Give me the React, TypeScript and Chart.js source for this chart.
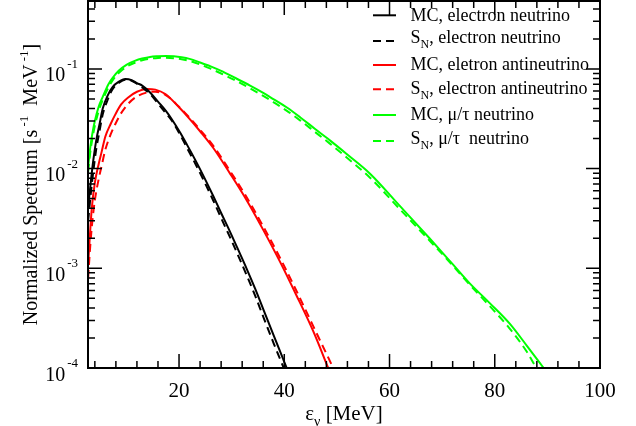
import React, { useEffect, useRef } from 'react';
import { Chart, registerables } from 'chart.js';
Chart.register(...registerables);

// ---------- axis ranges & ticks ----------
const X_MIN = 2.7;
const X_MAX = 100;
const Y_MIN = 1e-4;
const Y_MAX = 0.48;
const xMajorTicks = [20, 40, 60, 80, 100];
const xTickLabels = ['20', '40', '60', '80', '100'];
const xMinorStep = 4;
const yMajorTicks = [1e-4, 1e-3, 1e-2, 1e-1];
const yTickExponents = ['-4', '-3', '-2', '-1'];

// ---------- data ----------
// MC, electron neutrino
const mcNueE = [2.73, 3.2, 3.7, 4.25, 4.9, 5.5, 6.5, 7.4, 8.5, 9.8, 11, 12, 13, 14.5, 16, 17.5, 18.5, 20.2, 21.5, 23.1, 24.8, 26.5, 28, 29.7, 31.3, 32.9, 34.5, 36, 38, 40.46];
const mcNueV = [4.1e-3, 7.1e-3, 0.012, 0.019, 0.028, 0.040, 0.055, 0.066, 0.074, 0.079, 0.077, 0.072, 0.068, 0.058, 0.047, 0.038, 0.032, 0.023, 0.0174, 0.01216, 8.13e-3, 5.31e-3, 3.59e-3, 2.32e-3, 1.51e-3, 9.77e-4, 6.17e-4, 3.89e-4, 2.11e-4, 1.0e-4];
// S_N, electron neutrino
const snNueE = [2.73, 3.2, 3.7, 4.25, 4.9, 5.5, 6.5, 7.4, 8.5, 9.8, 11, 12, 13, 14.5, 16, 17.5, 18.5, 20.2, 21.5, 23.1, 24.8, 26.5, 28, 29.7, 31.3, 32.9, 34.5, 36, 38, 39.9];
const snNueV = [3.0e-3, 5.4e-3, 9.3e-3, 0.0155, 0.024, 0.035, 0.050, 0.063, 0.072, 0.078, 0.076, 0.071, 0.065, 0.056, 0.045, 0.036, 0.031, 0.0219, 0.0162, 0.0112, 7.41e-3, 4.79e-3, 3.2e-3, 2.04e-3, 1.32e-3, 8.41e-4, 5.25e-4, 3.27e-4, 1.76e-4, 1.0e-4];
// MC, electron antineutrino
const mcNuebE = [2.73, 3.0, 3.42, 4.0, 4.74, 5.3, 6.0, 7.0, 7.9, 9.0, 10.4, 12, 13.9, 15.5, 17.4, 20, 22, 24, 26.55, 29.7, 32.88, 36, 39.2, 42.3, 45.5, 48.35];
const mcNuebV = [1.1e-3, 1.9e-3, 4.0e-3, 7.2e-3, 0.0112, 0.0148, 0.021, 0.028, 0.035, 0.044, 0.052, 0.059, 0.063, 0.062, 0.056, 0.0412, 0.0316, 0.0237, 0.016, 8.91e-3, 4.79e-3, 2.43e-3, 1.16e-3, 5.37e-4, 2.34e-4, 1.0e-4];
// S_N, electron antineutrino
const snNuebE = [2.73, 3.0, 3.42, 4.0, 4.74, 5.3, 6.0, 7.0, 7.9, 9.0, 10.4, 12, 13.9, 15.5, 17.4, 20, 22, 24, 26.55, 29.7, 32.88, 36, 39.2, 42.3, 45.5, 49.3];
const snNuebV = [8.0e-4, 1.35e-3, 2.6e-3, 4.8e-3, 7.9e-3, 0.0107, 0.0155, 0.022, 0.028, 0.036, 0.045, 0.053, 0.058, 0.059, 0.055, 0.0417, 0.0324, 0.0245, 0.0168, 9.44e-3, 5.13e-3, 2.63e-3, 1.27e-3, 5.96e-4, 2.63e-4, 1.0e-4];
// MC, mu/tau neutrino
const mcNuxE = [2.73, 3.1, 3.5, 4.0, 4.74, 5.5, 6.64, 7.5, 8.53, 10, 11.7, 13, 14.5, 16, 17.5, 19, 20.5, 22, 24, 26, 28, 30.5, 33.5, 36, 38, 40.5, 43, 45.8, 48.67, 51.8, 56.3, 62, 67.6, 72, 75.2, 79, 82.8, 86, 89.3];
const mcNuxV = [0.0105, 0.0158, 0.022, 0.030, 0.042, 0.0525, 0.071, 0.083, 0.096, 0.110, 0.121, 0.127, 0.132, 0.134, 0.135, 0.134, 0.131, 0.126, 0.116, 0.106, 0.0955, 0.082, 0.068, 0.0575, 0.0495, 0.041, 0.0328, 0.0251, 0.0192, 0.0141, 8.9e-3, 4.2e-3, 2.0e-3, 1.1e-3, 7.1e-4, 4.5e-4, 2.8e-4, 1.7e-4, 1.0e-4];
// S_N, mu/tau neutrino
const snNuxE = [2.73, 3.1, 3.5, 4.0, 4.74, 5.5, 6.64, 7.5, 8.53, 10, 11.7, 13, 14.5, 16, 17.5, 19, 20.5, 22, 24, 26, 28, 30.5, 33.5, 36, 38, 40.5, 43, 45.8, 48.67, 51.8, 56.3, 62, 67.6, 72, 75.2, 79, 82.8, 86, 87.9];
const snNuxV = [9.3e-3, 0.0141, 0.0195, 0.0269, 0.038, 0.049, 0.066, 0.0785, 0.091, 0.105, 0.116, 0.122, 0.1265, 0.129, 0.1294, 0.128, 0.125, 0.120, 0.111, 0.1005, 0.090, 0.0776, 0.0638, 0.0537, 0.0462, 0.038, 0.0305, 0.0234, 0.0178, 0.0130, 8.1e-3, 3.9e-3, 1.9e-3, 1.07e-3, 6.9e-4, 4.2e-4, 2.5e-4, 1.48e-4, 1.0e-4];

// ---------- legend ----------
const legendPrefix = ['MC', 'S', 'MC', 'S', 'MC', 'S'];
const legendSub = ['', 'N', '', 'N', '', 'N'];
const legendRest = [', electron neutrino', ', electron neutrino', ', eletron antineutrino', ', electron antineutrino', ', \u03bc/\u03c4 neutrino', ', \u03bc/\u03c4  neutrino'];
const seriesColors = ['#000000', '#000000', '#ff0000', '#ff0000', '#00ff00', '#00ff00'];
const seriesDashed = [false, true, false, true, false, true];

const SERIF = '"Liberation Serif", "Times New Roman", serif';
const DASH = [8, 5];

const toXY = (xs: number[], ys: number[]) => xs.map((x, i) => ({ x, y: ys[i] }));

const decorPlugin = {
  id: 'decor',
  afterDraw(chart: any) {
    const { ctx, chartArea, scales } = chart;
    const { left, right, top, bottom } = chartArea;
    const xs = scales.x;
    const ys = scales.y;
    ctx.save();
    ctx.setLineDash([]);
    ctx.strokeStyle = '#000';
    ctx.fillStyle = '#000';

    // ticks (inward, on all four sides)
    const MAJ = 14;
    const MIN = 7;
    ctx.lineWidth = 1.5;
    ctx.beginPath();
    for (let v = xMinorStep; v < X_MAX; v += xMinorStep) {
      if (v < X_MIN) continue;
      const px = xs.getPixelForValue(v);
      const len = xMajorTicks.includes(v) ? MAJ : MIN;
      ctx.moveTo(px, bottom);
      ctx.lineTo(px, bottom - len);
      ctx.moveTo(px, top);
      ctx.lineTo(px, top + len);
    }
    for (let e = -4; e <= 0; e++) {
      for (let k = 1; k <= 9; k++) {
        const v = k * Math.pow(10, e);
        if (v < Y_MIN * 0.999 || v > Y_MAX) continue;
        const py = ys.getPixelForValue(v);
        const len = k === 1 ? MAJ : MIN;
        ctx.moveTo(left, py);
        ctx.lineTo(left + len, py);
        ctx.moveTo(right, py);
        ctx.lineTo(right - len, py);
      }
    }
    ctx.stroke();

    // frame
    ctx.lineWidth = 2;
    ctx.strokeRect(left, top, right - left, bottom - top);

    // x tick labels
    ctx.font = `21px ${SERIF}`;
    ctx.textAlign = 'center';
    ctx.textBaseline = 'alphabetic';
    xMajorTicks.forEach((v, i) => {
      ctx.fillText(xTickLabels[i], xs.getPixelForValue(v), 397);
    });

    // y tick labels 10^n
    ctx.textAlign = 'left';
    yMajorTicks.forEach((v, i) => {
      const py = ys.getPixelForValue(v);
      ctx.font = `13px ${SERIF}`;
      const wExp = ctx.measureText(yTickExponents[i]).width;
      ctx.font = `20px ${SERIF}`;
      const wTen = ctx.measureText('10').width;
      const endX = 78;
      ctx.fillText('10', endX - wExp - 2 - wTen, py + 12.5);
      ctx.font = `13px ${SERIF}`;
      ctx.fillText(yTickExponents[i], endX - wExp, py - 1);
    });

    // x axis title: epsilon_nu [MeV]
    {
      ctx.font = `21px ${SERIF}`;
      const w1 = ctx.measureText('\u03b5').width;
      const w3 = ctx.measureText(' [MeV]').width;
      ctx.font = `14px ${SERIF}`;
      const w2 = ctx.measureText('\u03bd').width;
      const cx = (left + right) / 2;
      const x0 = cx - (w1 + w2 + w3) / 2;
      ctx.font = `21px ${SERIF}`;
      ctx.fillText('\u03b5', x0, 420);
      ctx.font = `14px ${SERIF}`;
      ctx.fillText('\u03bd', x0 + w1, 426);
      ctx.font = `21px ${SERIF}`;
      ctx.fillText(' [MeV]', x0 + w1 + w2, 420);
    }

    // y axis title
    {
      const parts: [string, boolean][] = [
        ['Normalized Spectrum [s', false],
        [' -1', true],
        ['  MeV', false],
        [' -1', true],
        [']', false],
      ];
      const fontFor = (sup: boolean) => (sup ? `13px ${SERIF}` : `20px ${SERIF}`);
      let total = 0;
      const widths = parts.map(([t, s]) => {
        ctx.font = fontFor(s);
        const w = ctx.measureText(t).width;
        total += w;
        return w;
      });
      ctx.save();
      ctx.translate(37, (top + bottom) / 2);
      ctx.rotate(-Math.PI / 2);
      let x = -total / 2;
      parts.forEach(([t, s], i) => {
        ctx.font = fontFor(s);
        ctx.fillText(t, x, s ? -9 : 0);
        x += widths[i];
      });
      ctx.restore();
    }

    // legend
    const lineY = [15.3, 41, 65, 89.3, 115, 141];
    const capY = [15.3, 37.2, 63.7, 87.5, 114, 138];
    legendPrefix.forEach((pre, i) => {
      ctx.save();
      ctx.strokeStyle = seriesColors[i];
      ctx.lineWidth = 2;
      ctx.setLineDash(seriesDashed[i] ? DASH : []);
      ctx.beginPath();
      ctx.moveTo(373, lineY[i]);
      ctx.lineTo(396, lineY[i]);
      ctx.stroke();
      ctx.restore();
      const base = capY[i] + 6;
      let x = 410.5;
      ctx.font = `18px ${SERIF}`;
      ctx.fillText(pre, x, base);
      x += ctx.measureText(pre).width;
      if (legendSub[i]) {
        ctx.font = `12px ${SERIF}`;
        ctx.fillText(legendSub[i], x, base + 5);
        x += ctx.measureText(legendSub[i]).width;
      }
      ctx.font = `18px ${SERIF}`;
      ctx.fillText(legendRest[i], x, base);
    });

    ctx.restore();
  },
};

export default function App() {
  const ref = useRef<HTMLCanvasElement | null>(null);
  useEffect(() => {
    if (!ref.current) return;
    const seriesX = [mcNueE, snNueE, mcNuebE, snNuebE, mcNuxE, snNuxE];
    const seriesY = [mcNueV, snNueV, mcNuebV, snNuebV, mcNuxV, snNuxV];
    const names = legendPrefix.map((p, i) => p + legendSub[i] + legendRest[i]);
    const chart = new Chart(ref.current, {
      type: 'line',
      data: {
        datasets: seriesX.map((xs, i) => ({
          label: names[i],
          data: toXY(xs, seriesY[i]),
          borderColor: seriesColors[i],
          backgroundColor: seriesColors[i],
          borderWidth: 2,
          borderDash: seriesDashed[i] ? DASH : [],
          pointRadius: 0,
          fill: false,
          cubicInterpolationMode: 'monotone' as const,
        })),
      },
      options: {
        responsive: false,
        animation: false,
        devicePixelRatio: 1,
        layout: { padding: { left: 88, right: 36, top: 1, bottom: 58 } },
        plugins: { legend: { display: false }, tooltip: { enabled: false } },
        scales: {
          x: { type: 'linear', min: X_MIN, max: X_MAX, display: false },
          y: { type: 'logarithmic', min: Y_MIN, max: Y_MAX, display: false },
        },
      },
      plugins: [decorPlugin],
    });
    return () => chart.destroy();
  }, []);
  return (
    <div style={{ position: 'fixed', left: 0, top: 0, width: 636, height: 426, background: '#fff' }}>
      <canvas ref={ref} width={636} height={426} />
    </div>
  );
}
